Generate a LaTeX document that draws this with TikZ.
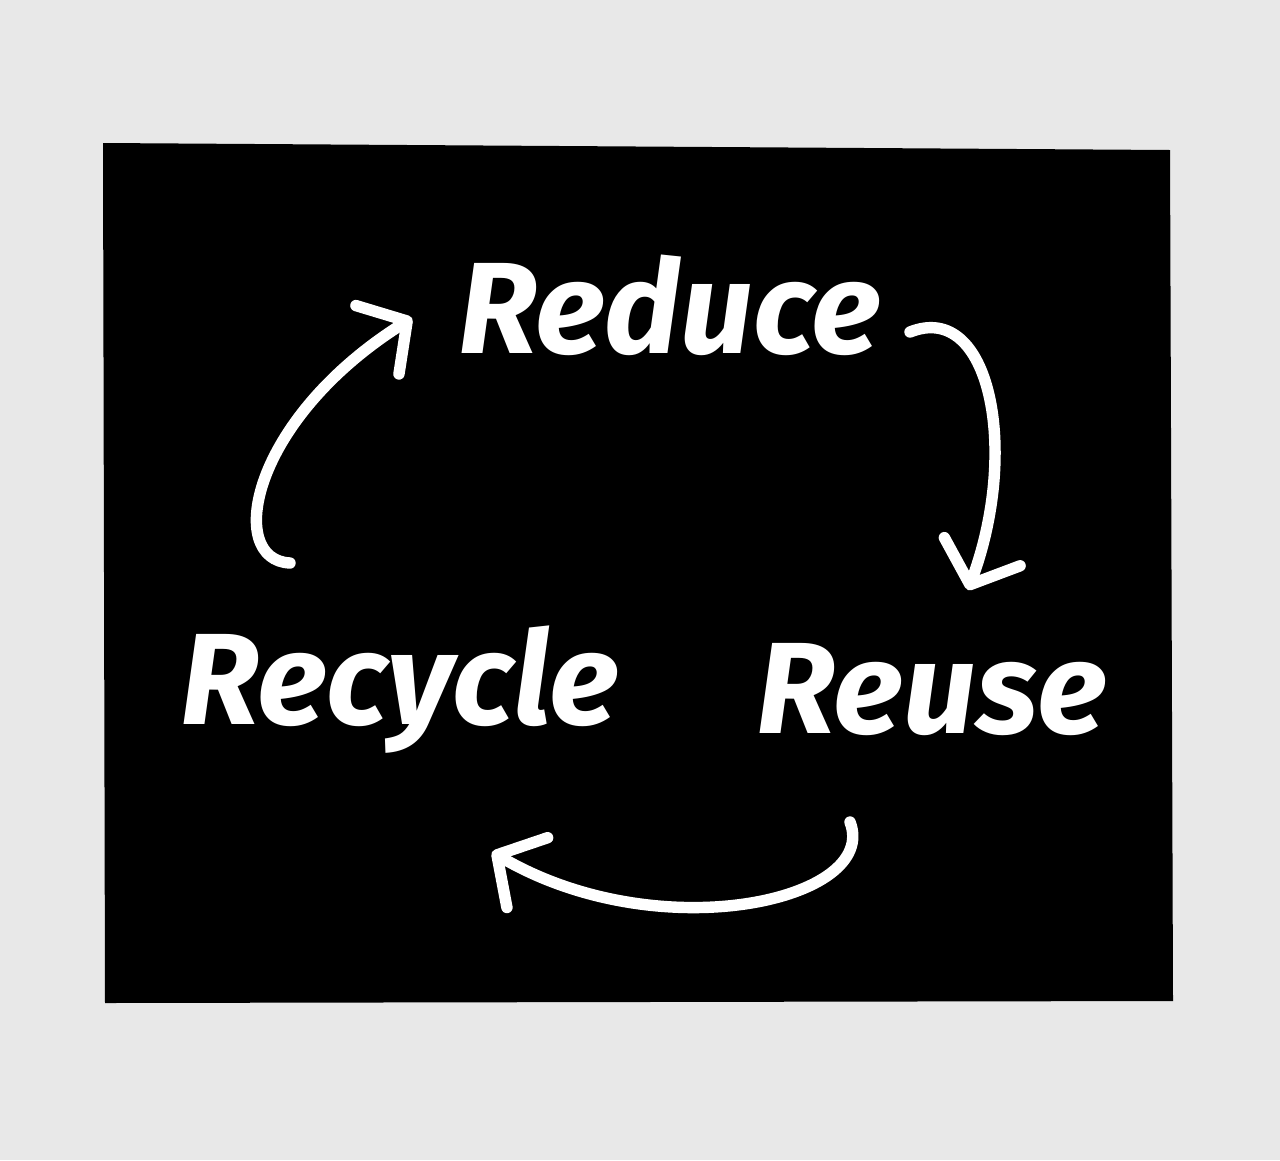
\documentclass[tikz,border=0pt]{standalone}
\usepackage{fontspec}
\setmainfont{Fira Sans}
\usetikzlibrary{arrows.meta, calc}

\tikzset{
    word/.style={text=white, font=\fontsize{74}{74}\selectfont\bfseries\itshape, inner sep=0pt},
    loop/.style={white, line width=6.5pt, line cap=round, line join=round,
        -{Straight Barb[length=20pt, width=46pt, line width=6.5pt, round]}}
}

\begin{document}
\begin{tikzpicture}[x=0.02cm, y=-0.02cm]
        \useasboundingbox (0,0) rectangle (1280,1160);
        \fill[gray!18] (0,0) rectangle (1280,1160);
        
        % Board
        \fill[black] (103,143) -- (1170,150) -- (1173,1001) -- (105,1003) -- cycle;
        
        % Words
        \node[word] (reduce) at (670,305) {Reduce};
        \node[word] (recycle) at (400,690) {Recycle};
        \node[word] (reuse) at (932,690) {Reuse};
        
        \coordinate (a1) at (290,563);
        \coordinate (a2) at (412,318);
        \coordinate (b1) at (910,332);
        \coordinate (b2) at (968,590);
        \coordinate (c1) at (850,822);
        \coordinate (c2) at (492,852);
        
        % Cycle arrows
        \draw[loop] (a1) .. controls (225,560) and (250,420) .. (a2);
        \draw[loop] (b1) .. controls (990,300) and (1020,450) .. (b2);
        \draw[loop] (c1) .. controls (880,900) and (660,950) .. (c2);
        
    \end{tikzpicture}
\end{document}
